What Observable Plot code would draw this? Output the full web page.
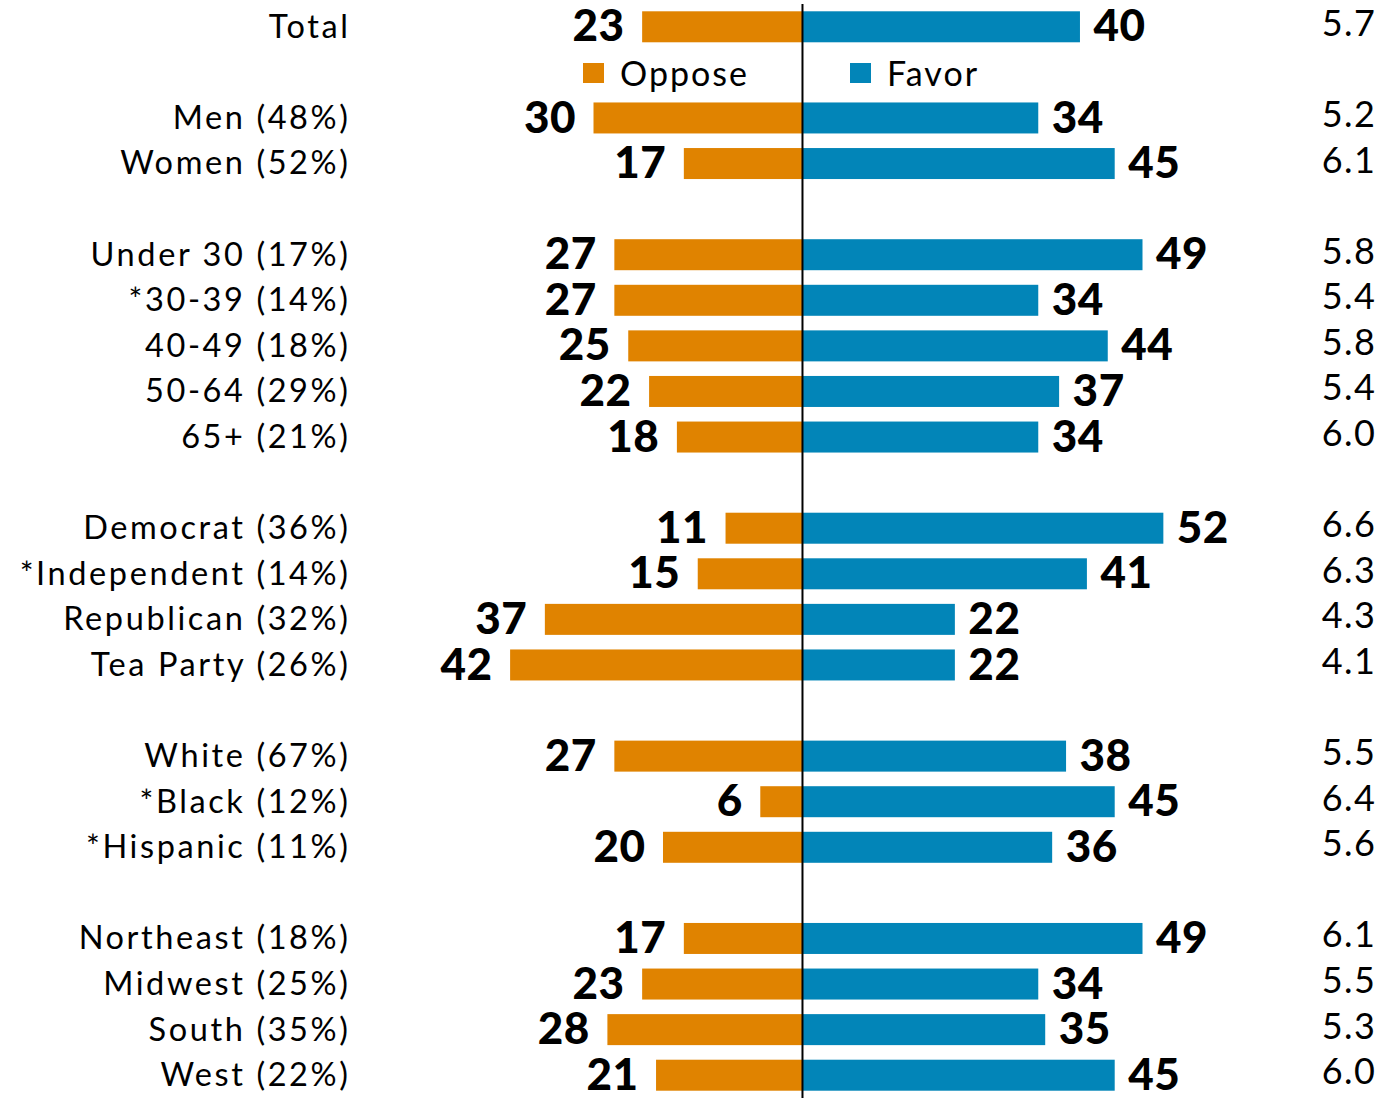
<!DOCTYPE html>
<html>
<head>
<meta charset="utf-8">
<script src="https://cdn.jsdelivr.net/npm/d3@7"></script>
<script src="https://cdn.jsdelivr.net/npm/@observablehq/plot@0.6"></script>
<style>
  html, body { margin: 0; padding: 0; background: #fff; }
  #wrap { position: relative; width: 1390px; height: 1098px; overflow: hidden; font-family: Lato, "Open Sans", sans-serif; }
  .leg { position: absolute; top: 52px; font-size: 34px; letter-spacing: 2px; color: #000; display: flex; align-items: center; }
  .leg i { display: inline-block; width: 21px; height: 20px; margin-right: 16px; }
  g[aria-label="y-axis tick label"] text { letter-spacing: 2.6px; }
  g.means text { letter-spacing: 1.5px; }
  g.vals text { letter-spacing: 0.5px; }
</style>
</head>
<body>
<div id="wrap"></div>
<script>
const categories = ["Total", "Men (48%)", "Women (52%)", "Under 30 (17%)", "*30-39 (14%)", "40-49 (18%)", "50-64 (29%)", "65+ (21%)",
  "Democrat (36%)", "*Independent (14%)", "Republican (32%)", "Tea Party (26%)",
  "White (67%)", "*Black (12%)", "*Hispanic (11%)",
  "Northeast (18%)", "Midwest (25%)", "South (35%)", "West (22%)"];
const groups = [0, 1, 1, 2, 2, 2, 2, 2, 3, 3, 3, 3, 4, 4, 4, 5, 5, 5, 5];
const favor  = [40, 34, 45, 49, 34, 44, 37, 34, 52, 41, 22, 22, 38, 45, 36, 49, 34, 35, 45];
const oppose = [23, 30, 17, 27, 27, 25, 22, 18, 11, 15, 37, 42, 27, 6, 20, 17, 23, 28, 21];
const means  = ["5.7", "5.2", "6.1", "5.8", "5.4", "5.8", "5.4", "6.0", "6.6", "6.3", "4.3", "4.1", "5.5", "6.4", "5.6", "6.1", "5.5", "5.3", "6.0"];
const seriesNames = ["Oppose", "Favor"];
const seriesColors = ["#E08300", "#0285B8"];

// y domain with blank spacer rows between groups
const domain = [];
categories.forEach((c, i) => {
  if (i > 0 && groups[i] !== groups[i - 1]) domain.push("__gap" + i);
  domain.push(c);
});

const rows = categories.map((c, i) => ({cat: c, favor: favor[i], oppose: -oppose[i], opp: oppose[i], mean: means[i]}));

const font = "Lato, 'Open Sans', sans-serif";
const chart = Plot.plot({
  width: 1390,
  height: 1098,
  marginLeft: 360,
  marginRight: 14,
  marginTop: 4,
  marginBottom: 0,
  style: {fontFamily: font, background: "#fff", overflow: "visible"},
  x: {domain: [-63.6, 82.6], axis: null},
  y: {domain, paddingInner: 0.32, paddingOuter: 0.16, round: false, axis: null},
  marks: [
    Plot.barX(rows, {x: "oppose", y: "cat", fill: seriesColors[0]}),
    Plot.barX(rows, {x: "favor", y: "cat", fill: seriesColors[1]}),
    Plot.ruleX([0], {stroke: "#000", strokeWidth: 2}),
    Plot.axisY({ticks: categories, tickSize: 0, tickPadding: 10, fontSize: 32.5, anchor: "left", label: null, fill: "#000"}),
    Plot.text(rows, {x: "oppose", y: "cat", text: "opp", textAnchor: "end", dx: -18, fontSize: 44, fontWeight: 900, fill: "#000", className: "vals"}),
    Plot.text(rows, {x: "favor", y: "cat", text: "favor", textAnchor: "start", dx: 13, fontSize: 44, fontWeight: 900, fill: "#000", className: "vals"}),
    Plot.text(rows, {y: "cat", frameAnchor: "right", text: "mean", textAnchor: "end", dy: -3, fontSize: 36, fill: "#000", className: "means"})
  ]
});

const wrap = document.getElementById("wrap");
wrap.appendChild(chart);
const legendX = [583, 850];
seriesNames.forEach((name, i) => {
  const d = document.createElement("div");
  d.className = "leg";
  d.style.left = legendX[i] + "px";
  d.innerHTML = `<i style="background:${seriesColors[i]}"></i>${name}`;
  wrap.appendChild(d);
});
</script>
</body>
</html>
